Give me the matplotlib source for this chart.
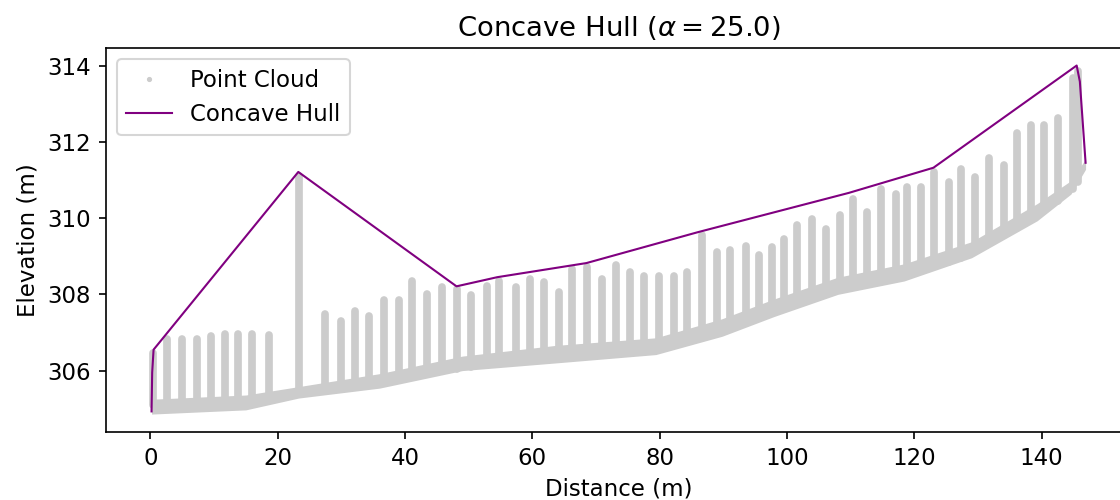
import numpy as np
import matplotlib
matplotlib.use("Agg")
import matplotlib.pyplot as plt

# ground band of the point cloud (lower / upper edge)
ground_x = [0.2, 15.0, 23.3, 36.0, 49.0, 63.6, 79.4, 89.8, 98.0, 108.0, 118.4, 129.0, 139.3, 144.6, 146.9]
ground_lo = [304.86, 304.97, 305.28, 305.54, 306.00, 306.20, 306.42, 306.90, 307.42, 308.00,
             308.35, 308.96, 309.93, 310.63, 311.28]
ground_hi = [305.25, 305.36, 305.58, 305.92, 306.38, 306.66, 306.86, 307.36, 307.88, 308.45,
             308.80, 309.38, 310.38, 310.98, 311.55]

# vertical columns of points (x position, base and top elevation)
stripe_x = [0.5, 2.6, 5.0, 7.3, 9.5, 11.7, 13.8, 16.0, 18.6, 23.3,
            27.5, 29.9, 32.2, 34.4, 36.7, 39.0, 41.1, 43.5, 45.8, 48.2,
            50.3, 52.9, 54.7, 57.4, 59.7, 61.8, 64.2, 66.3, 68.6, 71.0,
            73.1, 75.4, 77.5, 79.9, 82.2, 84.3, 86.7, 89.0, 91.1, 93.5,
            95.6, 97.7, 99.6, 101.6, 104.0, 106.1, 108.4, 110.3, 112.6, 114.7,
            117.1, 118.9, 121.0, 123.1, 125.4, 127.3, 129.6, 131.7, 134.1, 136.2,
            138.3, 140.4, 142.5, 145.0, 145.7]
stripe_top = [306.45, 306.83, 306.83, 306.83, 306.91, 306.95, 306.95, 306.95, 306.93, 311.10,
              307.48, 307.31, 307.57, 307.44, 307.84, 307.84, 308.36, 308.01, 308.19, 308.14,
              307.97, 308.23, 308.36, 308.19, 308.41, 308.32, 308.06, 308.67, 308.71, 308.41,
              308.76, 308.58, 308.49, 308.49, 308.49, 308.58, 309.55, 309.11, 309.15, 309.28,
              309.02, 309.24, 309.46, 309.81, 309.98, 309.72, 310.07, 310.51, 310.16, 310.77,
              310.64, 310.82, 310.82, 311.21, 310.95, 311.30, 311.08, 311.57, 311.39, 312.22,
              312.44, 312.44, 312.62, 313.67, 313.85]
stripe_base = [305.10, 305.10, 305.10, 305.15, 305.15, 305.15, 305.20, 305.20, 305.25, 305.40,
               305.55, 305.60, 305.65, 305.70, 305.75, 305.80, 305.85, 305.90, 306.00, 306.05,
               306.10, 306.15, 306.20, 306.25, 306.30, 306.35, 306.40, 306.40, 306.45, 306.45,
               306.50, 306.55, 306.55, 306.60, 306.70, 306.75, 306.85, 307.00, 307.10, 307.25,
               307.40, 307.60, 307.70, 307.80, 307.95, 308.05, 308.20, 308.25, 308.35, 308.40,
               308.50, 308.55, 308.65, 308.75, 308.85, 308.95, 309.15, 309.35, 309.55, 309.75,
               310.00, 310.20, 310.45, 310.75, 310.95]

# upper boundary of the concave hull
hull_x = [0.2, 0.3, 0.52, 23.25, 48.1, 54.5, 68.5, 86.0, 109.7, 123.0, 145.5, 146.0, 146.9]
hull_y = [304.93, 305.95, 306.55, 311.21, 308.21, 308.45, 308.82, 309.63, 310.66, 311.32,
          314.00, 313.58, 311.45]

alpha = 25.0
cloud_color = '#cccccc'

plt.rcParams['font.size'] = 11

fig = plt.figure(figsize=(1120 / 150, 500 / 150), dpi=150)
ax = fig.add_axes([105.7 / 1120, 68 / 500, 1027 / 1120, 384 / 500])

ax.vlines(stripe_x, stripe_base, stripe_top, colors=cloud_color, linewidth=3.7,
          capstyle='round', zorder=1)
ax.fill_between(ground_x, ground_lo, ground_hi, color=cloud_color, linewidth=0, zorder=1)
ax.plot([], [], '.', color=cloud_color, markersize=3, label='Point Cloud')
ax.plot(hull_x, hull_y, color='purple', linewidth=1.0, label='Concave Hull', zorder=3)

ax.set_xlim(-7.0, 154.3)
ax.set_ylim(304.39, 314.46)
ax.set_xlabel('Distance (m)')
ax.set_ylabel('Elevation (m)')
ax.set_title(r'Concave Hull ($\alpha = {}$)'.format(alpha))
ax.legend(loc='upper left')

fig.savefig('out.png', dpi=150)
